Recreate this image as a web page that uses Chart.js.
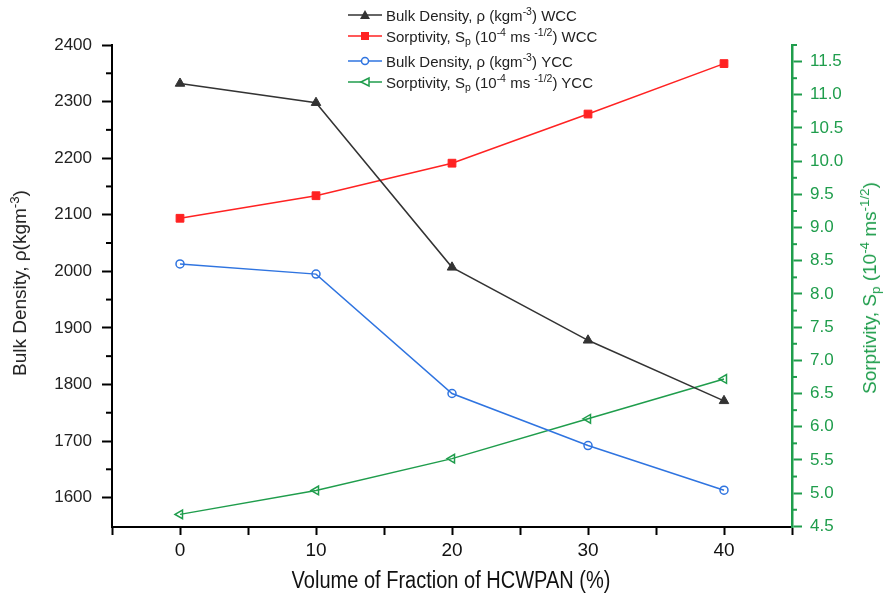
<!DOCTYPE html>
<html>
<head>
<meta charset="utf-8">
<script src="https://cdn.jsdelivr.net/npm/chart.js@4.4.1/dist/chart.umd.min.js"></script>
<style>
  body { margin: 0; background: #fff; }
  #wrap { position: relative; width: 890px; height: 597px; font-family: "Liberation Sans", Arial, sans-serif; }
  canvas { position: absolute; left: 0; top: 0; }
  .row { position: absolute; left: 348px; height: 20px; display: flex; align-items: center; font-size: 15px; color: #222; white-space: nowrap; }
  .row svg { margin-right: 4px; }
  sup { font-size: 70%; vertical-align: 0.55em; line-height: 0; }
  sub { font-size: 70%; vertical-align: -0.3em; line-height: 0; }
  .ytitle { position: absolute; white-space: nowrap; transform: translate(-50%, -50%) rotate(-90deg); font-size: 19px; }
  #xtitle { position: absolute; left: 451px; top: 580px; transform: translate(-50%, -50%) scaleX(0.87); white-space: nowrap;
            font-size: 23px; color: #111; }
</style>
</head>
<body>
<div id="wrap">
  <canvas id="chart" width="890" height="597"></canvas>
  <div id="legend"></div>
  <div class="ytitle" style="left:20px; top:283px; color:#222;">Bulk Density, ρ(kgm<sup>-3</sup>)</div>
  <div class="ytitle" style="left:870px; top:288px; color:#1f9d4c;">Sorptivity, S<sub>p</sub> (10<sup>-4</sup> ms<sup>-1/2</sup>)</div>
  <div id="xtitle">Volume of Fraction of HCWPAN (%)</div>
</div>
<script>
const fractions = [0, 10, 20, 30, 40];
const bulkWCC = [2332, 2298, 2007, 1878, 1771];
const sorpWCC = [9.14, 9.48, 9.97, 10.71, 11.47];
const bulkYCC = [2013, 1995, 1784, 1692, 1613];
const sorpYCC = [4.68, 5.04, 5.52, 6.12, 6.72];

const xTicks = [-5, 0, 5, 10, 15, 20, 25, 30, 35, 40, 45];
const xLabels = [0, 10, 20, 30, 40];
const leftTicks = [1600, 1700, 1800, 1900, 2000, 2100, 2200, 2300, 2400];
const leftMinor = [1650, 1750, 1850, 1950, 2050, 2150, 2250, 2350];
const rightTicks = [4.5, 5.0, 5.5, 6.0, 6.5, 7.0, 7.5, 8.0, 8.5, 9.0, 9.5, 10.0, 10.5, 11.0, 11.5];
const rightMinor = [4.75, 5.25, 5.75, 6.25, 6.75, 7.25, 7.75, 8.25, 8.75, 9.25, 9.75, 10.25, 10.75, 11.25, 11.75];

const legendNames = [
  'Bulk Density, ρ (kgm<sup>-3</sup>) WCC',
  'Sorptivity, S<sub>p</sub> (10<sup>-4</sup> ms <sup>-1/2</sup>) WCC',
  'Bulk Density, ρ (kgm<sup>-3</sup>) YCC',
  'Sorptivity, S<sub>p</sub> (10<sup>-4</sup> ms <sup>-1/2</sup>) YCC'
];

const BLACK = '#333333', RED = '#ff2222', BLUE = '#2f74e0', GREEN = '#1f9d4c';

const toPoints = vals => vals.map((v, i) => ({ x: fractions[i], y: v }));

// legend drawn as html rows with a small svg symbol
const legendRows = [
  { top: 5, color: BLACK, mark: '<polygon points="17,2 22,11 12,11" fill="' + BLACK + '"/>' },
  { top: 26, color: RED, mark: '<rect x="13" y="3" width="8" height="8" fill="' + RED + '"/>' },
  { top: 51, color: BLUE, mark: '<circle cx="17" cy="7" r="3.5" fill="#fff" stroke="' + BLUE + '" stroke-width="1.5"/>' },
  { top: 72, color: GREEN, mark: '<polygon points="13,7 21,3 21,11" fill="#fff" stroke="' + GREEN + '" stroke-width="1.5"/>' }
];
document.getElementById('legend').innerHTML = legendRows.map((r, i) =>
  `<div class="row" style="top:${r.top}px"><svg width="34" height="14">` +
  `<line x1="0" y1="7" x2="34" y2="7" stroke="${r.color}" stroke-width="1.5"/>${r.mark}</svg>` +
  `<span>${legendNames[i]}</span></div>`).join('');

const minorTicks = {
  id: 'minorTicks',
  afterDraw(chart) {
    const ctx = chart.ctx;
    const { left, right } = chart.chartArea;
    ctx.save();
    ctx.lineWidth = 2;
    ctx.strokeStyle = '#000';
    leftMinor.forEach(v => {
      const y = chart.scales.y.getPixelForValue(v);
      ctx.beginPath(); ctx.moveTo(left - 6, y); ctx.lineTo(left, y); ctx.stroke();
    });
    ctx.strokeStyle = GREEN;
    rightMinor.forEach(v => {
      const y = chart.scales.y1.getPixelForValue(v);
      ctx.beginPath(); ctx.moveTo(right, y); ctx.lineTo(right + 5, y); ctx.stroke();
    });
    ctx.restore();
  }
};

const tickFont = { family: 'Liberation Sans', size: 17 };

new Chart(document.getElementById('chart'), {
  type: 'line',
  data: {
    datasets: [
      {
        label: 'Bulk Density WCC', data: toPoints(bulkWCC), yAxisID: 'y',
        borderColor: BLACK, borderWidth: 1.5, pointStyle: 'triangle', pointRadius: 5.5,
        pointBackgroundColor: BLACK, pointBorderColor: BLACK, pointBorderWidth: 1
      },
      {
        label: 'Sorptivity WCC', data: toPoints(sorpWCC), yAxisID: 'y1',
        borderColor: RED, borderWidth: 1.5, pointStyle: 'rect', pointRadius: 5.5,
        pointBackgroundColor: RED, pointBorderColor: RED, pointBorderWidth: 1
      },
      {
        label: 'Bulk Density YCC', data: toPoints(bulkYCC), yAxisID: 'y',
        borderColor: BLUE, borderWidth: 1.5, pointStyle: 'circle', pointRadius: 4,
        pointBackgroundColor: 'rgba(255,255,255,0)', pointBorderColor: BLUE, pointBorderWidth: 1.5
      },
      {
        label: 'Sorptivity YCC', data: toPoints(sorpYCC), yAxisID: 'y1',
        borderColor: GREEN, borderWidth: 1.5, pointStyle: 'triangle', rotation: -90, pointRadius: 5,
        pointBackgroundColor: 'rgba(255,255,255,0)', pointBorderColor: GREEN, pointBorderWidth: 1.5
      }
    ]
  },
  options: {
    responsive: false,
    animation: false,
    layout: { padding: { top: 45, left: 0, right: 0, bottom: 0 } },
    plugins: { legend: { display: false }, tooltip: { enabled: false } },
    elements: { line: { tension: 0 } },
    scales: {
      x: {
        type: 'linear', min: -5, max: 45,
        afterBuildTicks: s => { s.ticks = xTicks.map(v => ({ value: v })); },
        afterFit: s => { s.height = 70; },
        border: { display: true, color: '#000', width: 2 },
        grid: { drawOnChartArea: false, drawTicks: true, tickLength: 8, tickColor: '#000', tickWidth: 2 },
        ticks: {
          autoSkip: false, maxRotation: 0, padding: 4, color: '#111',
          font: { family: 'Liberation Sans', size: 19 },
          callback: v => xLabels.includes(v) ? String(v) : ''
        }
      },
      y: {
        position: 'left', min: 1548, max: 2400,
        afterBuildTicks: s => { s.ticks = leftTicks.map(v => ({ value: v })); },
        afterFit: s => { s.width = 112; },
        border: { display: true, color: '#000', width: 2 },
        grid: { drawOnChartArea: false, drawTicks: true, tickLength: 10, tickColor: '#000', tickWidth: 2 },
        ticks: { padding: 10, color: '#222', font: tickFont, callback: v => String(v) }
      },
      y1: {
        position: 'right', min: 4.49, max: 11.75,
        afterBuildTicks: s => { s.ticks = rightTicks.map(v => ({ value: v })); },
        afterFit: s => { s.width = 98; },
        border: { display: true, color: GREEN, width: 2.5 },
        grid: { drawOnChartArea: false, drawTicks: true, tickLength: 10, tickColor: GREEN, tickWidth: 2 },
        ticks: { padding: 8, color: GREEN, font: tickFont, callback: v => v.toFixed(1) }
      }
    }
  },
  plugins: [minorTicks]
});
</script>
</body>
</html>
